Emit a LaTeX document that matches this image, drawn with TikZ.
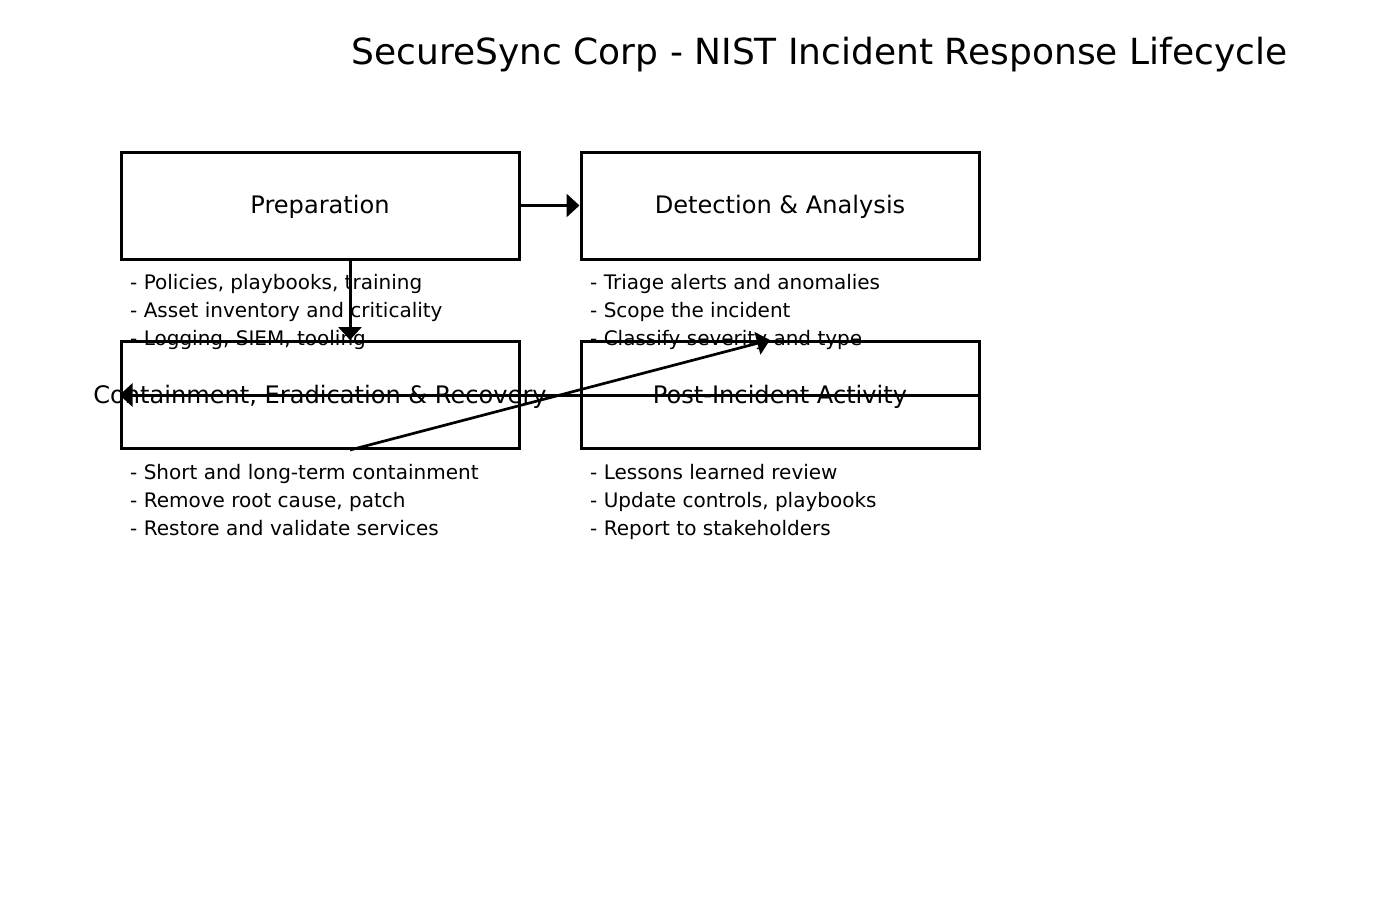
\documentclass[tikz,border=0pt]{standalone}
\usepackage{fontspec}
\setmainfont{DejaVu Sans}
\usetikzlibrary{arrows.meta}
\begin{document}
\begin{tikzpicture}[x=1pt,y=-1pt,
  phase/.style={draw=black,line width=3pt,minimum width=398pt,minimum height=107pt,inner sep=0pt},
  phaselabel/.style={anchor=base,inner sep=0pt,font=\fontsize{24.1}{28}\selectfont},
  bullet/.style={anchor=base west,inner sep=0pt,font=\fontsize{20}{28}\selectfont},
  flow/.style={line width=3pt,-{Triangle[length=13pt,width=23pt]}},
  flowthin/.style={line width=2.7pt,-{Triangle[length=13pt,width=23pt]}}]
\useasboundingbox (0,0) rectangle (1400,900);
\node[anchor=base,inner sep=0pt,font=\fontsize{36}{42}\selectfont] (title) at (819.5,64) {SecureSync Corp - NIST Incident Response Lifecycle};
\node[phase] (prep) at (320,205.5) {};
\node[phase] (det) at (780,205.5) {};
\node[phase] (cont) at (320,395) {};
\node[phase] (post) at (780,395) {};
\node[phaselabel] (prepL) at ([yshift=-8pt]prep.center) {Preparation};
\node[phaselabel] (detL) at ([yshift=-8pt]det.center) {Detection \& Analysis};
\node[phaselabel] (contL) at ([yshift=-8pt]cont.center) {Containment, Eradication \& Recovery};
\node[phaselabel] (postL) at ([yshift=-8pt]post.center) {Post-Incident Activity};
\node[bullet] (p1) at (130,289) {- Policies, playbooks, training};
\node[bullet] (p2) at (130,317) {- Asset inventory and criticality};
\node[bullet] (p3) at (130,345) {- Logging, SIEM, tooling};
\node[bullet] (d1) at (590,289) {- Triage alerts and anomalies};
\node[bullet] (d2) at (590,317) {- Scope the incident};
\node[bullet] (d3) at (590,345) {- Classify severity and type};
\node[bullet] (c1) at (130,479) {- Short and long-term containment};
\node[bullet] (c2) at (130,507) {- Remove root cause, patch};
\node[bullet] (c3) at (130,535) {- Restore and validate services};
\node[bullet] (a1) at (590,479) {- Lessons learned review};
\node[bullet] (a2) at (590,507) {- Update controls, playbooks};
\node[bullet] (a3) at (590,535) {- Report to stakeholders};
\draw[flow] (prep.east) -- (det.west);
\draw[flow] ([xshift=30pt]prep.south) -- ([xshift=30pt]cont.north);
\draw[flow] (post.east) -- (cont.west);
\draw[flowthin] ([xshift=30pt]cont.south) -- ([xshift=-10pt]post.north);
\end{tikzpicture}
\end{document}
